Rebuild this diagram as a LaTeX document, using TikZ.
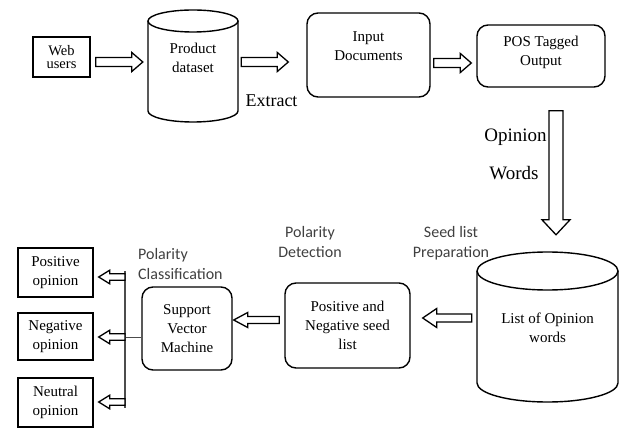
\documentclass[tikz,border=0pt]{standalone}
\usepackage{fontspec}
\setmainfont{Liberation Serif}
\newfontfamily\tnr{Liberation Serif}
\newfontfamily\calib{Carlito}
\usetikzlibrary{calc}
\newcommand\mycyl[5]{% left,right,top,bottom,ry
  \draw[line width=1.4pt] ({(#1+#2)/2},{#3+#5}) ellipse [x radius={(#2-#1)/2}, y radius=#5];
  \draw[line width=1.4pt] (#1,{#3+#5}) -- (#1,{#4-#5})
    arc[start angle=180, end angle=0, x radius={(#2-#1)/2}, y radius=#5] -- (#2,{#3+#5});
}
\tikzset{
  box/.style={draw, line width=1.4pt, inner sep=0pt},
  rbox/.style={box, rounded corners=11pt},
  txt/.style={font=\tnr\fontsize{15}{19}\selectfont, align=center, inner sep=0pt},
  lab/.style={font=\calib\fontsize{16}{20}\selectfont, text=black!75, inner sep=0pt},
  big/.style={font=\tnr\fontsize{19}{22}\selectfont, inner sep=0pt},
  harr/.style n args={3}{draw, line width=1.3pt, line join=miter, fill=white,
    to path={let \p1=(\tikztostart), \p2=(\tikztotarget), \n1={sign(\x2-\x1)} in
      (\x1,{\y1+#1}) -- ({\x2-\n1*#3},{\y1+#1}) -- ({\x2-\n1*#3},{\y1+#2}) -- (\x2,\y1)
      -- ({\x2-\n1*#3},{\y1-#2}) -- ({\x2-\n1*#3},{\y1-#1}) -- (\x1,{\y1-#1}) -- cycle}},
  varr/.style n args={3}{draw, line width=1.3pt, line join=miter, fill=white,
    to path={let \p1=(\tikztostart), \p2=(\tikztotarget), \n1={sign(\y2-\y1)} in
      ({\x1+#1},\y1) -- ({\x1+#1},{\y2-\n1*#3}) -- ({\x1+#2},{\y2-\n1*#3}) -- (\x1,\y2)
      -- ({\x1-#2},{\y2-\n1*#3}) -- ({\x1-#1},{\y2-\n1*#3}) -- ({\x1-#1},\y1) -- cycle}},
}
\begin{document}
\begin{tikzpicture}[x=1pt,y=-1pt]
\useasboundingbox (0,0) rectangle (623,430);
% top row
\node[box, minimum width=57pt, minimum height=40pt, font=\tnr\fontsize{14.5}{13}\selectfont, align=center] (web) at (61.5,57) {Web\\users};
\mycyl{148}{238}{10}{122}{11}
\node[minimum width=90pt, minimum height=112pt, inner sep=0pt] (pd) at (193,66) {};
\node[txt] (pdt) at (193,57.5) {Product\\dataset};
\node[rbox, minimum width=123pt, minimum height=84pt] (inp) at (368.5,55) {};
\node[txt] (inpt) at (368.5,46) {Input\\Documents};
\node[rbox, minimum width=128pt, minimum height=62pt] (pos) at (541,56) {};
\node[txt] (post) at (541,52) {POS Tagged\\Output};
\node[font=\tnr\fontsize{18}{20}\selectfont, inner sep=0pt] (ext) at (271.5,101) {Extract};
\node[big] (opn) at (515.5,137) {Opinion};
\node[big] (wds) at (514,173) {Words};
% list cylinder
\mycyl{477}{618}{252}{402}{19}
\node[minimum width=141pt, minimum height=150pt, inner sep=0pt] (lst) at (547.5,327) {};
\node[txt] (lstt) at (547.5,328) {List of Opinion\\words};
% bottom row
\node[rbox, minimum width=125pt, minimum height=85pt, txt] (pn) at (347.5,325.5) {Positive and\\Negative seed\\list};
\node[rbox, minimum width=90pt, minimum height=83pt, txt] (svm) at (187,328.5) {Support\\Vector\\Machine};
\node[box, minimum width=75pt, minimum height=49pt, txt] (po) at (55.5,272.5) {Positive\\opinion};
\node[box, minimum width=75pt, minimum height=47pt, txt] (ng) at (55.5,336.5) {Negative\\opinion};
\node[box, minimum width=75pt, minimum height=49pt, txt] (nu) at (55.5,402.5) {Neutral\\opinion};
% labels
\node[lab, align=center] (seed) at (451,243) {Seed list\\Preparation};
\node[lab, align=center] (pdet) at (310,242) {Polarity\\Detection};
\node[lab, align=left, anchor=west] (pcls) at (138,264) {Polarity\\Classification};
% connectors
\path[harr={4.5pt}{9.5pt}{11pt}] ([shift={(5,5)}]web.east) to ([shift={(-5,-4)}]pd.west);
\path[harr={4.5pt}{9.5pt}{11pt}] ([shift={(3,-4)}]pd.east) to ([shift={(-18,7)}]inp.west);
\path[harr={4.5pt}{9.5pt}{11pt}] ([shift={(3,8)}]inp.east) to ([shift={(-5,7)}]pos.west);
\path[varr={7pt}{14pt}{15pt}] ([shift={(15,23)}]pos.south) to ([shift={(8,-17)}]lst.north);
\path[harr={4pt}{9.5pt}{14pt}] ([shift={(-5,-9)}]lst.west) to ([shift={(12,-7.5)}]pn.east);
\path[harr={3.5pt}{7.5pt}{14pt}] ([shift={(-5,-5.5)}]pn.west) to ([shift={(1,-8.5)}]svm.east);
\coordinate (bt) at (125,271);
\coordinate (bb) at (125,408);
\coordinate (b1) at (125,277);
\coordinate (b2) at (125,337);
\coordinate (b3) at (125,402);
\draw[line width=1.3pt, black!70] (bt) -- (bb);
\draw[line width=0.9pt, black!70] ([shift={(0,8.5)}]svm.west) -- (b2);
\path[harr={3.3pt}{6.8pt}{11pt}] (b1) to ([shift={(5,4.5)}]po.east);
\path[harr={3.3pt}{6.8pt}{11pt}] (b2) to ([shift={(5,0.5)}]ng.east);
\path[harr={3.3pt}{6.8pt}{11pt}] (b3) to ([shift={(5,-0.5)}]nu.east);
\end{tikzpicture}
\end{document}
